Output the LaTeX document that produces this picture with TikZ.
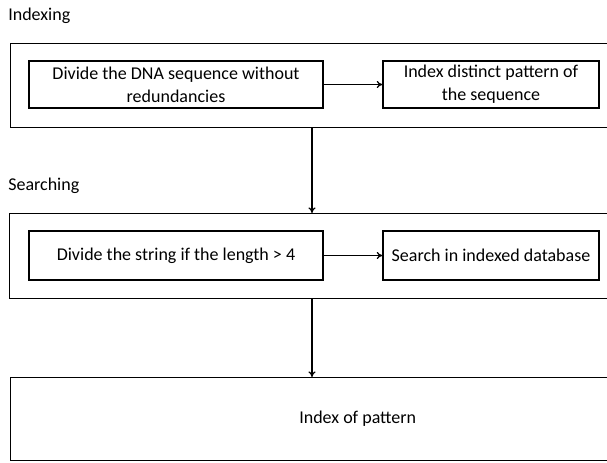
\documentclass[tikz,border=0pt]{standalone}
\usepackage{fontspec}
\setmainfont{Carlito}
\usetikzlibrary{arrows.meta,positioning}
\tikzset{
  box/.style={draw=black,line width=0.9pt,align=center,inner sep=2pt,font=\fontsize{12.8}{16.3}\selectfont},
  obox/.style={box,anchor=north west,minimum width=17.35cm},
  lbl/.style={anchor=west,inner sep=0pt,font=\fontsize{12.8}{16.3}\selectfont},
  ar/.style={-{To[length=4pt,width=5pt]},line width=0.9pt},
}

\begin{document}
\begin{tikzpicture}[x=0.025cm,y=-0.025cm]
\clip (0,0) rectangle (607,462);
% indexing stage
\node[lbl] (lidx) at (8,16) {Indexing};
\node[obox,minimum height=2.1cm] (stage1) at (10,43) {};
\node[box,minimum width=7.35cm,minimum height=1.175cm] (split) at (176,84.5) {Divide the DNA sequence without\\redundancies};
\node[box,minimum width=5.4cm,minimum height=1.175cm] (distinct) at (491,84.5) {Index distinct pattern of\\the sequence};
% searching stage
\node[lbl] (lsrch) at (8,186) {Searching};
\node[obox,minimum height=2.125cm] (stage2) at (9,213) {};
\node[box,minimum width=7.35cm,minimum height=1.225cm] (cut) at (176,255.5) {Divide the string if the length > 4};
\node[box,minimum width=5.4cm,minimum height=1.225cm] (lookup) at (491,255.5) {Search in indexed database};
% result
\node[obox,minimum height=2.075cm] (result) at (10,377) {Index of pattern};
\coordinate (mid) at (312,0);

\draw[ar] (split) -- (distinct);
\draw[ar] (cut) -- (lookup);
\draw[ar] (stage1.south -| mid) -- (stage2.north -| mid);
\draw[ar] (stage2.south -| mid) -- (result.north -| mid);
\end{tikzpicture}
\end{document}
